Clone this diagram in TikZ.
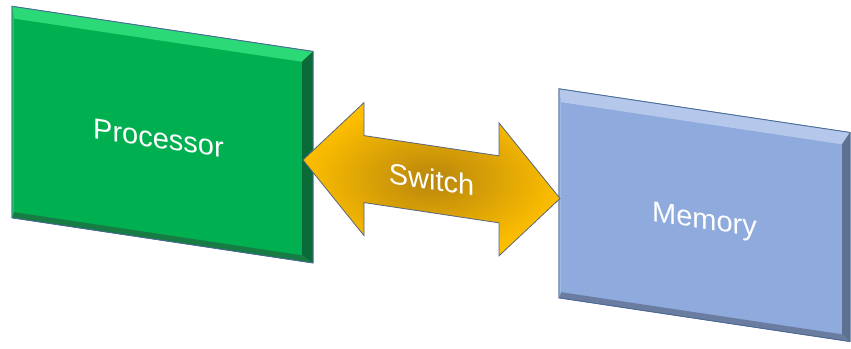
\documentclass[tikz,border=0pt]{standalone}
\usepackage{fontspec}
\setmainfont{Liberation Sans}
\usetikzlibrary{calc,positioning}
\definecolor{procface}{HTML}{00B050}
\definecolor{proctop}{HTML}{2BD977}
\definecolor{procright}{HTML}{0A6B38}
\definecolor{procbottom}{HTML}{177C44}
\definecolor{procleft}{HTML}{1FC466}
\definecolor{memface}{HTML}{8FAADC}
\definecolor{memtop}{HTML}{B5C8EC}
\definecolor{memright}{HTML}{5D7191}
\definecolor{membottom}{HTML}{6A7DA0}
\definecolor{memleft}{HTML}{A0B8E4}
\definecolor{edgeblue}{HTML}{4A6A96}
\definecolor{switchgold}{HTML}{FDBE00}
\definecolor{switchdark}{HTML}{B8860C}
\definecolor{arrowedge}{HTML}{56657D}

\begin{document}
\begin{tikzpicture}[x=1pt,y=-1pt,
    slab/.style={rectangle,draw=edgeblue,line width=0.8pt,outer sep=0pt,inner sep=0pt,minimum width=291pt},
    slabtext/.style={text=white,font=\fontsize{29}{32}\selectfont,inner sep=0pt},
    switcharrow/.style={draw=arrowedge,line width=0.8pt,line join=miter,
      shading=radial,inner color=switchdark,outer color=switchgold}]
  \path[use as bounding box,fill=white] (0,0) rectangle (851,348);
  \begin{scope}[yslant=-0.15,transform shape]
    % the two slabs
    \node[slab,fill=procface,minimum width=301pt,minimum height=211.5pt] (proc) at (162.5,110.25) {};
    \node[slab,fill=memface,minimum height=209pt] (mem) at (704.5,109.5) {};

    % bevels of the processor
    \fill[proctop] (proc.north west) -- (proc.north east) -- ($(proc.north east)+(-11,12)$) -- ($(proc.north west)+(2,12)$) -- cycle;
    \fill[procright] (proc.north east) -- (proc.south east) -- ($(proc.south east)+(-11,-6)$) -- ($(proc.north east)+(-11,12)$) -- cycle;
    \fill[procbottom] (proc.south east) -- (proc.south west) -- ($(proc.south west)+(2,-6)$) -- ($(proc.south east)+(-11,-6)$) -- cycle;
    \fill[procleft] (proc.south west) -- (proc.north west) -- ($(proc.north west)+(2,12)$) -- ($(proc.south west)+(2,-6)$) -- cycle;
    \draw[edgeblue,line width=0.8pt] (proc.north west) -- (proc.north east) -- (proc.south east) -- (proc.south west) -- cycle;

    % bevels of the memory
    \fill[memtop] (mem.north west) -- (mem.north east) -- ($(mem.north east)+(-8,13)$) -- ($(mem.north west)+(2,13)$) -- cycle;
    \fill[memright] (mem.north east) -- (mem.south east) -- ($(mem.south east)+(-8,-6)$) -- ($(mem.north east)+(-8,13)$) -- cycle;
    \fill[membottom] (mem.south east) -- (mem.south west) -- ($(mem.south west)+(2,-6)$) -- ($(mem.south east)+(-8,-6)$) -- cycle;
    \fill[memleft] (mem.south west) -- (mem.north west) -- ($(mem.north west)+(2,13)$) -- ($(mem.south west)+(2,-6)$) -- cycle;
    \draw[edgeblue,line width=0.8pt] (mem.north west) -- (mem.north east) -- (mem.south east) -- (mem.south west) -- cycle;

    \node[slabtext,text height=28pt,text depth=0pt] (proctext) at ($(proc.center)+(-4,0)$) {Processor};
    \node[slabtext,text height=28pt,text depth=0pt] (memtext) at (mem.center) {Memory};

    % the switch between them
    \coordinate (tipL) at ($(proc.east)+(-10,4.25)$);
    \coordinate (tipR) at ($(mem.west)+(1,5)$);
    \draw[switcharrow] (tipL) -- ++(61,-66.5) -- ++(0,33) -- ($(tipR)+(-61,-33.5)$) -- ++(0,-33) -- (tipR)
      -- ++(-61,66.5) -- ++(0,-33) -- ($(tipL)+(61,33.5)$) -- ++(0,33) -- cycle;
    \node[slabtext] (switch) at ($(tipL)!0.5!(tipR)$) {Switch};
  \end{scope}
\end{tikzpicture}
\end{document}
